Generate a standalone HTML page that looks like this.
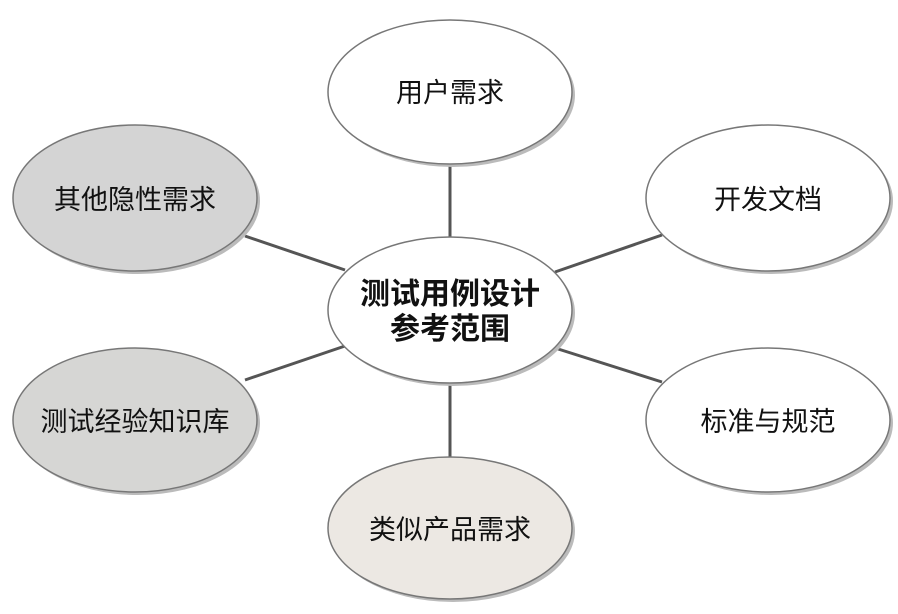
<!DOCTYPE html>
<html><head><meta charset="utf-8"><style>body{margin:0;background:#fff}svg{display:block}</style></head>
<body>
<svg width="898" height="614" xmlns="http://www.w3.org/2000/svg" font-family="'Liberation Sans','Noto Sans CJK SC',sans-serif">
<g stroke="#555" stroke-width="3">
<line x1="450" y1="160" x2="450" y2="240"/>
<line x1="450" y1="380" x2="450" y2="460"/>
<line x1="245" y1="236" x2="345" y2="270"/>
<line x1="662" y1="235" x2="555" y2="272"/>
<line x1="555" y1="348" x2="662" y2="382"/>
<line x1="245" y1="380" x2="345" y2="346"/>
</g>
<g fill="#bbb">
<ellipse cx="453" cy="95" rx="122" ry="72"/>
<ellipse cx="771" cy="201" rx="122" ry="73"/>
<ellipse cx="138" cy="201" rx="122" ry="73"/>
<ellipse cx="453" cy="313" rx="122" ry="73"/>
<ellipse cx="138" cy="423" rx="122" ry="72"/>
<ellipse cx="771" cy="423" rx="122" ry="72"/>
<ellipse cx="453" cy="531" rx="122" ry="71"/>
</g>
<g stroke="#777" stroke-width="1.5">
<ellipse cx="450" cy="92" rx="122" ry="72" fill="#fff"/>
<ellipse cx="768" cy="198" rx="122" ry="73" fill="#fff"/>
<ellipse cx="135" cy="198" rx="122" ry="73" fill="#d4d4d4"/>
<ellipse cx="450" cy="310" rx="122" ry="73" fill="#fff"/>
<ellipse cx="135" cy="420" rx="122" ry="72" fill="#d6d6d4"/>
<ellipse cx="768" cy="420" rx="122" ry="72" fill="#fff"/>
<ellipse cx="450" cy="528" rx="122" ry="71" fill="#ece8e3"/>
</g>
<g font-size="27" fill="#111" text-anchor="middle">
<text x="450" y="102">用户需求</text>
<text x="768" y="209">开发文档</text>
<text x="135" y="209">其他隐性需求</text>
<text x="135" y="431">测试经验知识库</text>
<text x="768" y="431">标准与规范</text>
<text x="450" y="539">类似产品需求</text>
<text x="450" y="304" font-size="30" font-weight="bold">测试用例设计</text>
<text x="450" y="339" font-size="30" font-weight="bold">参考范围</text>
</g>
</svg>
</body></html>
